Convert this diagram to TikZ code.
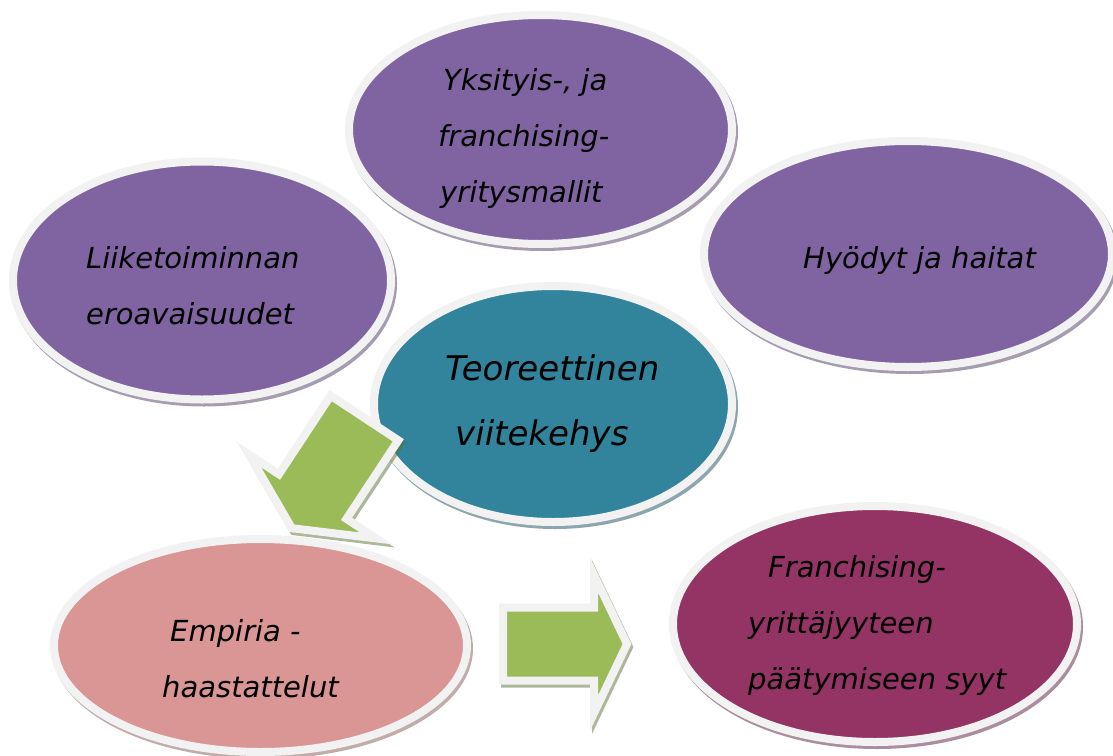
\documentclass[tikz,border=0pt]{standalone}
\usepackage{fontspec}
\setmainfont{DejaVu Sans}
\usepackage{tikz}
\usetikzlibrary{shapes.geometric,shapes.arrows,shadows}
\definecolor{PurpleNC}{HTML}{8064A2}
\definecolor{TealNC}{HTML}{31849B}
\definecolor{PinkNC}{HTML}{D99694}
\definecolor{PlumNC}{HTML}{943464}
\definecolor{GreenNC}{HTML}{9BBB59}
\definecolor{EdgeNC}{HTML}{F2F2F2}
\newcommand\txtliike{Liiketoiminnan\\eroavaisuudet}
\newcommand\txtyks{\hspace{5pt}Yksityis-, ja\\franchising-\\\hspace{2pt}yritysmallit}
\newcommand\txthyo{Hyödyt ja haitat}
\newcommand\txtteo{Teoreettinen\\\hspace{10pt}viitekehys}
\newcommand\txtemp{\hspace{8pt}Empiria -\\haastattelut}
\newcommand\txtsyy{\hspace{20pt}Franchising-\\yrittäjyyteen\\päätymiseen syyt}
\tikzset{softshadow/.style={drop shadow={shadow xshift=2pt, shadow yshift=-3pt, opacity=.5, fill=#1!60!black, draw=#1!60!black, line width=8pt}}}
\tikzstyle{bubble} = [ellipse, inner sep=0pt, outer sep=0pt, draw=EdgeNC, line width=8pt]
\tikzstyle{pn} = [bubble, fill=PurpleNC, softshadow=PurpleNC]
\tikzstyle{tn} = [bubble, fill=TealNC, softshadow=TealNC]
\tikzstyle{rn} = [bubble, fill=PinkNC, softshadow=PinkNC]
\tikzstyle{mn} = [bubble, fill=PlumNC, softshadow=PlumNC]
\tikzstyle{blockarrow} = [single arrow, inner xsep=0pt, outer sep=0pt, anchor=tail, draw=EdgeNC, line width=8pt, fill=GreenNC, softshadow=GreenNC]
\tikzstyle{txt} = [anchor=west, inner sep=0pt, align=left, text=black, font=\itshape\fontsize{29}{56}\selectfont]
\tikzstyle{bigtxt} = [txt, font=\itshape\fontsize{34}{65}\selectfont]

\begin{document}
\begin{tikzpicture}[x=1pt, y=-1pt]
\fill[white] (0,0) rectangle (1113,755);
\useasboundingbox (0,0) rectangle (1113,755);
% bubbles
\node[pn, minimum width=378pt, minimum height=238pt] (liike) at (202,280.5) {};
\node[txt] (liiketxt) at (86,285.5) {\txtliike};
\node[pn, minimum width=383pt, minimum height=229pt] (yks) at (540.5,129.5) {};
\node[txt] (ykstxt) at (438,138.5) {\txtyks};
\node[pn, minimum width=408pt, minimum height=226pt] (hyo) at (908,254) {};
\node[txt] (hyotxt) at (803,260.5) {\txthyo};
\node[tn, minimum width=358pt, minimum height=236pt] (teo) at (553,404) {};
\node[bigtxt] (teotxt) at (445,403.5) {\txtteo};
\node[rn, minimum width=413pt, minimum height=213pt] (emp) at (260.5,645.5) {};
\node[txt] (emptxt) at (162,658.5) {\txtemp};
\node[mn, minimum width=404pt, minimum height=236pt] (syy) at (875,624) {};
\node[txt] (syytxt) at (748,625) {\txtsyy};
% arrows
\node[blockarrow, minimum height=132pt, minimum width=144pt, inner ysep=36.5pt, single arrow head extend=35.5pt, single arrow tip angle=127, rotate=-123.4] (teoemp) at (364.5,418) {};
\node[blockarrow, minimum height=124pt, minimum width=130pt, inner ysep=32.5pt, single arrow head extend=32.5pt, single arrow tip angle=129] (empsyy) at (503,644) {};
\end{tikzpicture}
\end{document}
